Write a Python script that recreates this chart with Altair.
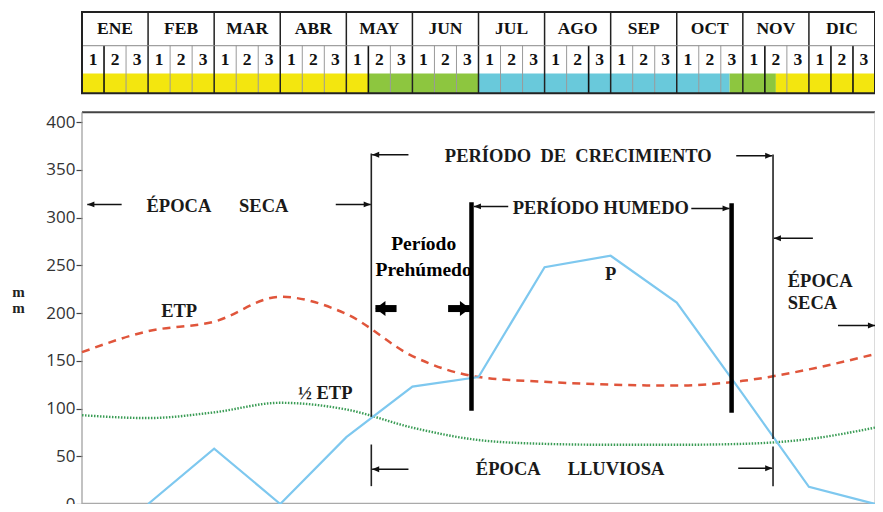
import altair as alt
import pandas as pd

# ---------------- data ----------------
months = ["ENE", "FEB", "MAR", "ABR", "MAY", "JUN", "JUL", "AGO", "SEP", "OCT", "NOV", "DIC"]
dekad_labels = ["1", "2", "3"] * 12

# coloured band of the calendar (in dekads)
band_start = [0, 13, 18, 29.4, 31.5]
band_end = [13, 18, 29.4, 31.5, 36]
band_color = ["#f3e60f", "#8dc63f", "#69c9db", "#8dc63f", "#f3e60f"]
dark_seps = [1, 13, 23, 31, 34, 35]

# series (x in months)
p_x = list(range(1, 13))
p_vals = [0, 58, 0, 70, 123, 133, 248, 260, 211, 115, 18, 0]
etp_x = list(range(0, 13))
etp_vals = [159, 181, 191, 217, 199, 155, 133, 128, 125, 124, 129, 141, 157]
half_vals = [93, 90, 96, 106, 99, 80, 67, 63, 62, 62, 63, 68, 80]

# vertical period lines
v_x = [4.378, 4.378, 5.894, 9.83, 10.457, 10.457]
v_y1 = [367, 18.7, 316, 315, 366, 18.7]
v_y2 = [91.4, 62.3, 97.7, 95.6, 68, 60.3]
v_kind = ["thin", "thin", "thick", "thick", "thin", "thin"]

# thin arrows
arr_tail = [0.60, 3.84, 4.94, 9.90, 6.45, 9.22, 11.06, 11.44, 4.94, 9.93]
arr_head = [0.08, 4.37, 4.39, 10.445, 5.93, 9.80, 10.47, 12.0, 4.39, 10.445]
arr_y = [313.8, 313.8, 365.7, 364.7, 311.7, 309.6, 278.4, 187, 36.4, 37.4]

# thick arrows (Período Prehúmedo)
tarr_tail = [4.76, 5.54]
tarr_head = [4.44, 5.87]
tarr_y = [204.7, 204.7]

# annotation texts
t_text = ["ÉPOCA", "SECA", "PERÍODO\u00a0\u00a0DE\u00a0\u00a0CRECIMIENTO", "PERÍODO HUMEDO",
          "ETP", "P", "½ ETP", "ÉPOCA", "LLUVIOSA"]
t_x = [1.466, 2.75, 7.51, 7.85, 1.47, 8.0, 3.68, 6.45, 8.08]
t_y = [311.7, 311.7, 364.7, 309.6, 202.6, 241, 116.4, 36.4, 36.4]

r_text = ["ÉPOCA", "SECA"]
r_x = [10.68, 10.68]
r_y = [233.8, 211]

pre_text = ["Período", "Prehúmedo"]
pre_x = [5.17, 5.17]
pre_y = [272, 245]

mm_text = ["m", "m"]
mm_x = [-0.96, -0.96]
mm_y = [221.8, 205.2]

# ---------------- layout constants ----------------
Y_TOP = 515.3
Y_MONTH = 480
Y_DEK = 450.9
Y_TAB = 430.1
Y_FRAME = 410.4

XS = alt.Scale(domain=[0, 12], nice=False, zero=False)
YS = alt.Scale(domain=[0, Y_TOP], nice=False, zero=False)
YAX = alt.Axis(values=list(range(0, 401, 50)), title="", grid=False, domain=False,
               ticks=True, tickSize=6, tickColor="#444", tickWidth=1.2,
               labelFont="Open Sans", labelFontSize=17, labelColor="#333",
               labelPadding=1)


def X(f):
    return alt.X(f"{f}:Q", scale=XS, axis=None)


def Y(f):
    return alt.Y(f"{f}:Q", scale=YS, axis=YAX)


SERIF = "Liberation Serif"

# ---------------- calendar table ----------------
band_df = pd.DataFrame({"x": [s / 3 for s in band_start], "x2": [e / 3 for e in band_end],
                        "c": band_color, "y": Y_TAB, "y2": Y_DEK})
band = alt.Chart(band_df).mark_rect().encode(
    x=X("x"), x2="x2", y=Y("y"), y2="y2", color=alt.Color("c:N", scale=None))

sep_df = pd.DataFrame({"x": [k / 3 for k in range(1, 36) if k % 3],
                       "dark": [k in dark_seps for k in range(1, 36) if k % 3]})
sep_df["y"] = Y_TAB
sep_df["y2"] = Y_MONTH
seps_light = alt.Chart(sep_df).transform_filter("!datum.dark").mark_rule(
    color="#9a9a9a", strokeWidth=1).encode(x=X("x"), y=Y("y"), y2="y2")
seps_dark = alt.Chart(sep_df).transform_filter("datum.dark").mark_rule(
    color="#111", strokeWidth=1.6).encode(x=X("x"), y=Y("y"), y2="y2")

mb_df = pd.DataFrame({"x": list(range(1, 12)), "y": Y_TAB, "y2": Y_TOP})
month_borders = alt.Chart(mb_df).mark_rule(color="#222", strokeWidth=1.5).encode(
    x=X("x"), y=Y("y"), y2="y2")

hline_df = pd.DataFrame({"x": [0], "x2": [12], "y": [Y_MONTH]})
hline = alt.Chart(hline_df).mark_rule(color="#888", strokeWidth=1).encode(
    x=X("x"), x2="x2", y=Y("y"))

box_df = pd.DataFrame({"x": [0], "x2": [12], "y": [Y_TAB], "y2": [Y_TOP]})
box = alt.Chart(box_df).mark_rect(fill="transparent", stroke="#222", strokeWidth=2).encode(
    x=X("x"), x2="x2", y=Y("y"), y2="y2")

mlab_df = pd.DataFrame({"x": [m + 0.5 for m in range(12)], "t": months, "y": 497.1})
month_text = alt.Chart(mlab_df).mark_text(font=SERIF, fontWeight="bold", fontSize=17.5,
                                          color="#111", baseline="middle").encode(
    x=X("x"), y=Y("y"), text="t:N")

dlab_df = pd.DataFrame({"x": [(d + 0.5) / 3 for d in range(36)], "t": dekad_labels, "y": 465.5})
dek_text = alt.Chart(dlab_df).mark_text(font=SERIF, fontWeight="bold", fontSize=17.5,
                                        color="#111", baseline="middle").encode(
    x=X("x"), y=Y("y"), text="t:N")

# ---------------- plot frame ----------------
frame_top = alt.Chart(pd.DataFrame({"x": [0], "x2": [12], "y": [Y_FRAME]})).mark_rule(
    color="#444", strokeWidth=2).encode(x=X("x"), x2="x2", y=Y("y"))
frame_side = alt.Chart(pd.DataFrame({"x": [0, 12], "y": [0, 0], "y2": [Y_FRAME, Y_FRAME],
                                     "c": ["#999", "#c4c4c4"]})).mark_rule(
    strokeWidth=1.2).encode(x=X("x"), y=Y("y"), y2="y2", color=alt.Color("c:N", scale=None))
frame_bot = alt.Chart(pd.DataFrame({"x": [0], "x2": [12], "y": [0.5]})).mark_rule(
    color="#aaa", strokeWidth=1.5).encode(x=X("x"), x2="x2", y=Y("y"))

# ---------------- series ----------------
p_df = pd.DataFrame({"x": p_x, "v": p_vals})
etp_df = pd.DataFrame({"x": etp_x, "v": etp_vals})
half_df = pd.DataFrame({"x": etp_x, "v": half_vals})

half_line = alt.Chart(half_df).mark_line(color="#3a9c55", strokeWidth=2.4,
                                         strokeDash=[1.5, 1.5], interpolate="monotone").encode(
    x=X("x"), y=Y("v"))
etp_line = alt.Chart(etp_df).mark_line(color="#e0553b", strokeWidth=2.5,
                                       strokeDash=[8, 6], interpolate="monotone").encode(
    x=X("x"), y=Y("v"))
p_line = alt.Chart(p_df).mark_line(color="#7ec8ef", strokeWidth=2.2).encode(
    x=X("x"), y=Y("v"))

# ---------------- period lines & arrows ----------------
v_df = pd.DataFrame({"x": v_x, "y": v_y1, "y2": v_y2, "k": v_kind})
v_thin = alt.Chart(v_df).transform_filter("datum.k == 'thin'").mark_rule(
    color="#222", strokeWidth=1.6).encode(x=X("x"), y=Y("y"), y2="y2")
v_thick = alt.Chart(v_df).transform_filter("datum.k == 'thick'").mark_rule(
    color="#000", strokeWidth=4.5).encode(x=X("x"), y=Y("y"), y2="y2")

a_df = pd.DataFrame({"tail": arr_tail, "head": arr_head, "y": arr_y})
a_df["dir"] = ["R" if h > t else "L" for t, h in zip(arr_tail, arr_head)]
a_rules = alt.Chart(a_df).mark_rule(color="#111", strokeWidth=1.5).encode(
    x=X("tail"), x2="head", y=Y("y"))
HEAD_R = "M0,0L-1,-0.42L-1,0.42Z"
HEAD_L = "M0,0L1,-0.42L1,0.42Z"
a_head_r = alt.Chart(a_df).transform_filter("datum.dir == 'R'").mark_point(
    shape=HEAD_R, filled=True, size=200, color="#111", opacity=1, strokeWidth=0).encode(
    x=X("head"), y=Y("y"))
a_head_l = alt.Chart(a_df).transform_filter("datum.dir == 'L'").mark_point(
    shape=HEAD_L, filled=True, size=200, color="#111", opacity=1, strokeWidth=0).encode(
    x=X("head"), y=Y("y"))

ta_df = pd.DataFrame({"tail": tarr_tail, "head": tarr_head, "y": tarr_y})
ta_df["dir"] = ["R" if h > t else "L" for t, h in zip(tarr_tail, tarr_head)]
ta_rules = alt.Chart(ta_df).mark_rule(color="#000", strokeWidth=7).encode(
    x=X("tail"), x2="head", y=Y("y"))
THEAD_R = "M0,0L-1,-0.75L-1,0.75Z"
THEAD_L = "M0,0L1,-0.75L1,0.75Z"
ta_head_r = alt.Chart(ta_df).transform_filter("datum.dir == 'R'").mark_point(
    shape=THEAD_R, filled=True, size=400, color="#000", opacity=1, strokeWidth=0).encode(
    x=X("head"), y=Y("y"))
ta_head_l = alt.Chart(ta_df).transform_filter("datum.dir == 'L'").mark_point(
    shape=THEAD_L, filled=True, size=400, color="#000", opacity=1, strokeWidth=0).encode(
    x=X("head"), y=Y("y"))

# ---------------- annotation text ----------------
t_df = pd.DataFrame({"x": t_x, "y": t_y, "t": t_text})
texts = alt.Chart(t_df).mark_text(font=SERIF, fontWeight="bold", fontSize=18.5,
                                  color="#1a1a1a", baseline="middle").encode(
    x=X("x"), y=Y("y"), text="t:N")

r_df = pd.DataFrame({"x": r_x, "y": r_y, "t": r_text})
r_texts = alt.Chart(r_df).mark_text(font=SERIF, fontWeight="bold", fontSize=18.5, align="left",
                                    color="#1a1a1a", baseline="middle").encode(
    x=X("x"), y=Y("y"), text="t:N")

pre_df = pd.DataFrame({"x": pre_x, "y": pre_y, "t": pre_text})
pre_texts = alt.Chart(pre_df).mark_text(font=SERIF, fontWeight="bold", fontSize=19.5,
                                        color="#000", baseline="middle").encode(
    x=X("x"), y=Y("y"), text="t:N")

mm_df = pd.DataFrame({"x": mm_x, "y": mm_y, "t": mm_text})
mm_texts = alt.Chart(mm_df).mark_text(font=SERIF, fontWeight="bold", fontSize=15,
                                      color="#222", baseline="middle").encode(
    x=X("x"), y=Y("y"), text="t:N")

chart = alt.layer(
    band, seps_light, seps_dark, month_borders, hline, box, month_text, dek_text,
    frame_top, frame_side, frame_bot,
    half_line, etp_line, p_line,
    v_thin, v_thick, a_rules, a_head_r, a_head_l,
    ta_rules, ta_head_r, ta_head_l,
    texts, r_texts, pre_texts, mm_texts,
).properties(
    width=793, height=492,
    autosize=alt.AutoSizeParams(type="none"),
    padding={"left": 74, "top": 4, "right": 0, "bottom": 0},
    background="white",
).configure_view(strokeWidth=0).configure_axis(
    labelFont="Open Sans", labelFontSize=17, labelColor="#333"
)

chart.save("out.html", embed_options={"renderer": "svg", "actions": False})
